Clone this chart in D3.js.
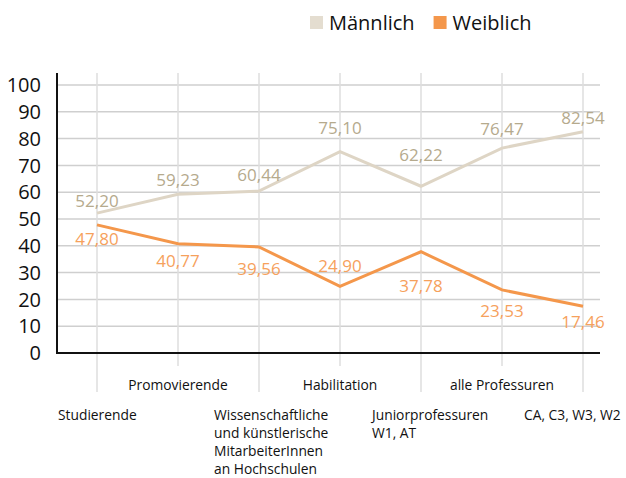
<!DOCTYPE html>
<html>
<head>
<meta charset="utf-8">
<script src="https://cdn.jsdelivr.net/npm/d3@7"></script>
<style>
  body { margin: 0; background: #fff; }
  svg { font-family: "Open Sans", "Noto Sans", sans-serif; }
</style>
</head>
<body>
<div id="chart"></div>
<script>
// categories (label lines) and values
var categories = ['Studierende', 'Promovierende', 'Wissenschaftliche', 'Habilitation', 'Juniorprofessuren', 'alle Professuren', 'CA, C3, W3, W2'];
var categoryLines = [
  ['Studierende'],
  ['Promovierende'],
  ['Wissenschaftliche', 'und künstlerische', 'MitarbeiterInnen', 'an Hochschulen'],
  ['Habilitation'],
  ['Juniorprofessuren', 'W1, AT'],
  ['alle Professuren'],
  ['CA, C3, W3, W2']
];
var maennlich = [52.20, 59.23, 60.44, 75.10, 62.22, 76.47, 82.54];
var weiblich = [47.80, 40.77, 39.56, 24.90, 37.78, 23.53, 17.46];
var yTicks = [0, 10, 20, 30, 40, 50, 60, 70, 80, 90, 100];

// label nudges (layout only)
var mLabelDy = [-12, -14, -16, -24, -31, -19, -14];
var wLabelDy = [14, 17, 22, -20, 34, 21, 16];
var lowLabelDx = [-39, 0, -45, 0, -49, 0, -59];

var width = 626, height = 478;
var plotLeft = 57, plotRight = 600, plotTop = 73, plotBottom = 353;

var svg = d3.select('#chart').append('svg')
  .attr('width', width)
  .attr('height', height);

var x = d3.scalePoint()
  .domain(categories)
  .range([97, 583]);

var y = d3.scaleLinear()
  .domain([0, 100])
  .range([plotBottom, 85]);

var locale = d3.formatLocale({ decimal: ',', thousands: '.', grouping: [3], currency: ['', '€'] });
var fmt = locale.format('.2f');

// horizontal grid
svg.append('g').selectAll('line')
  .data(yTicks.filter(function(d) { return d > 0; }))
  .enter().append('line')
  .attr('x1', plotLeft).attr('x2', plotRight)
  .attr('y1', function(d) { return y(d); })
  .attr('y2', function(d) { return y(d); })
  .attr('stroke', '#cfcfcf')
  .attr('stroke-width', 1.5);

// vertical grid
svg.append('g').selectAll('line')
  .data(categories)
  .enter().append('line')
  .attr('x1', function(d) { return x(d); })
  .attr('x2', function(d) { return x(d); })
  .attr('y1', plotTop).attr('y2', 392)
  .attr('stroke', '#dedede')
  .attr('stroke-width', 1.5);

// axes
svg.append('line')
  .attr('x1', plotLeft).attr('x2', plotLeft)
  .attr('y1', plotTop).attr('y2', plotBottom + 1)
  .attr('stroke', '#111').attr('stroke-width', 2);
svg.append('line')
  .attr('x1', plotLeft - 1).attr('x2', plotRight)
  .attr('y1', plotBottom).attr('y2', plotBottom)
  .attr('stroke', '#111').attr('stroke-width', 2);

// y tick labels
svg.append('g').selectAll('text')
  .data(yTicks)
  .enter().append('text')
  .attr('x', 41)
  .attr('y', function(d) { return y(d); })
  .attr('dy', '0.36em')
  .attr('text-anchor', 'end')
  .attr('font-size', 20)
  .attr('fill', '#111')
  .text(function(d) { return d; });

// category labels: odd ones in upper row with white background, even ones lower row
var catG = svg.append('g').attr('font-size', 13.8).attr('fill', '#111');
categories.forEach(function(c, i) {
  if (i % 2 === 1) {
    var t = catG.append('text')
      .attr('x', x(c))
      .attr('y', 390)
      .attr('text-anchor', 'middle')
      .text(categoryLines[i][0]);
    var bb = t.node().getBBox();
    catG.insert('rect', 'text')
      .attr('x', bb.x - 3).attr('y', 366)
      .attr('width', bb.width + 6).attr('height', 30)
      .attr('fill', '#fff');
  } else {
    var t2 = catG.append('text')
      .attr('x', x(c) + lowLabelDx[i])
      .attr('y', 420);
    t2.selectAll('tspan')
      .data(categoryLines[i])
      .enter().append('tspan')
      .attr('x', x(c) + lowLabelDx[i])
      .attr('dy', function(d, j) { return j === 0 ? 0 : 18; })
      .text(function(d) { return d; });
  }
});

var line = d3.line()
  .x(function(d, i) { return x(categories[i]); })
  .y(function(d) { return y(d); });

var series = [
  { name: 'Männlich', values: maennlich, color: '#ded5c5', label: '#b5aa8d', dy: mLabelDy },
  { name: 'Weiblich', values: weiblich, color: '#f4974b', label: '#f6a15c', dy: wLabelDy }
];

series.forEach(function(s) {
  svg.append('path')
    .datum(s.values)
    .attr('d', line)
    .attr('fill', 'none')
    .attr('stroke', s.color)
    .attr('stroke-width', 3);

  svg.append('g').selectAll('text')
    .data(s.values)
    .enter().append('text')
    .attr('x', function(d, i) { return x(categories[i]); })
    .attr('y', function(d, i) { return y(d) + s.dy[i]; })
    .attr('dy', '0.36em')
    .attr('text-anchor', 'middle')
    .attr('font-size', 17)
    .attr('fill', s.label)
    .text(function(d) { return fmt(d); });
});

// legend
var legend = svg.append('g').attr('transform', 'translate(310,16)');
var lx = 0;
series.forEach(function(s) {
  var g = legend.append('g').attr('transform', 'translate(' + lx + ',0)');
  g.append('rect')
    .attr('width', 13).attr('height', 13)
    .attr('fill', s.name === 'Männlich' ? '#e4ddd0' : '#f4974b');
  var t = g.append('text')
    .attr('x', 19).attr('y', 6.5)
    .attr('dy', '0.36em')
    .attr('font-size', 20)
    .attr('fill', '#111')
    .text(s.name);
  lx += 19 + t.node().getComputedTextLength() + 19;
});
</script>
</body>
</html>
